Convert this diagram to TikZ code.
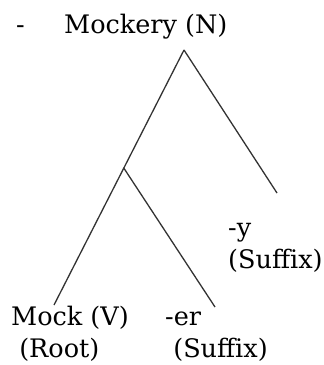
\documentclass[tikz,border=0pt]{standalone}
\usepackage{fontspec}
\setmainfont{DejaVu Serif}
\usetikzlibrary{calc}

\begin{document}
\begin{tikzpicture}[
  x=1pt,y=-1pt,
  font=\fontsize{25.5}{32}\selectfont,
  lbl/.style={anchor=base west,inner sep=0pt,align=left},
  br/.style={draw=black!80,line width=1.3pt}
]
\useasboundingbox (0,0) rectangle (324,365);
% ---- labels
\node[lbl] (dash) at (16,33) {-};
\node[lbl] (mockery) at (64,33) {Mockery (N)};
\node[lbl] (ysuf) at (228,268) {-y\\(Suffix)};
\node[lbl] (mock) at (11,357) {Mock (V)\\\ (Root)};
\node[lbl] (ersuf) at (165,357) {-er\\\ (Suffix)};

% ---- tree
\coordinate (apex) at (184,50);
\coordinate (mockend) at (54,305);
\coordinate (yend) at (277,193);
\coordinate (erend) at (215,307);
\coordinate (split) at ($(apex)!0.463!(mockend)$);
\draw[br] (apex) -- (mockend);
\draw[br] (apex) -- (yend);
\draw[br] (split) -- (erend);
\end{tikzpicture}
\end{document}
